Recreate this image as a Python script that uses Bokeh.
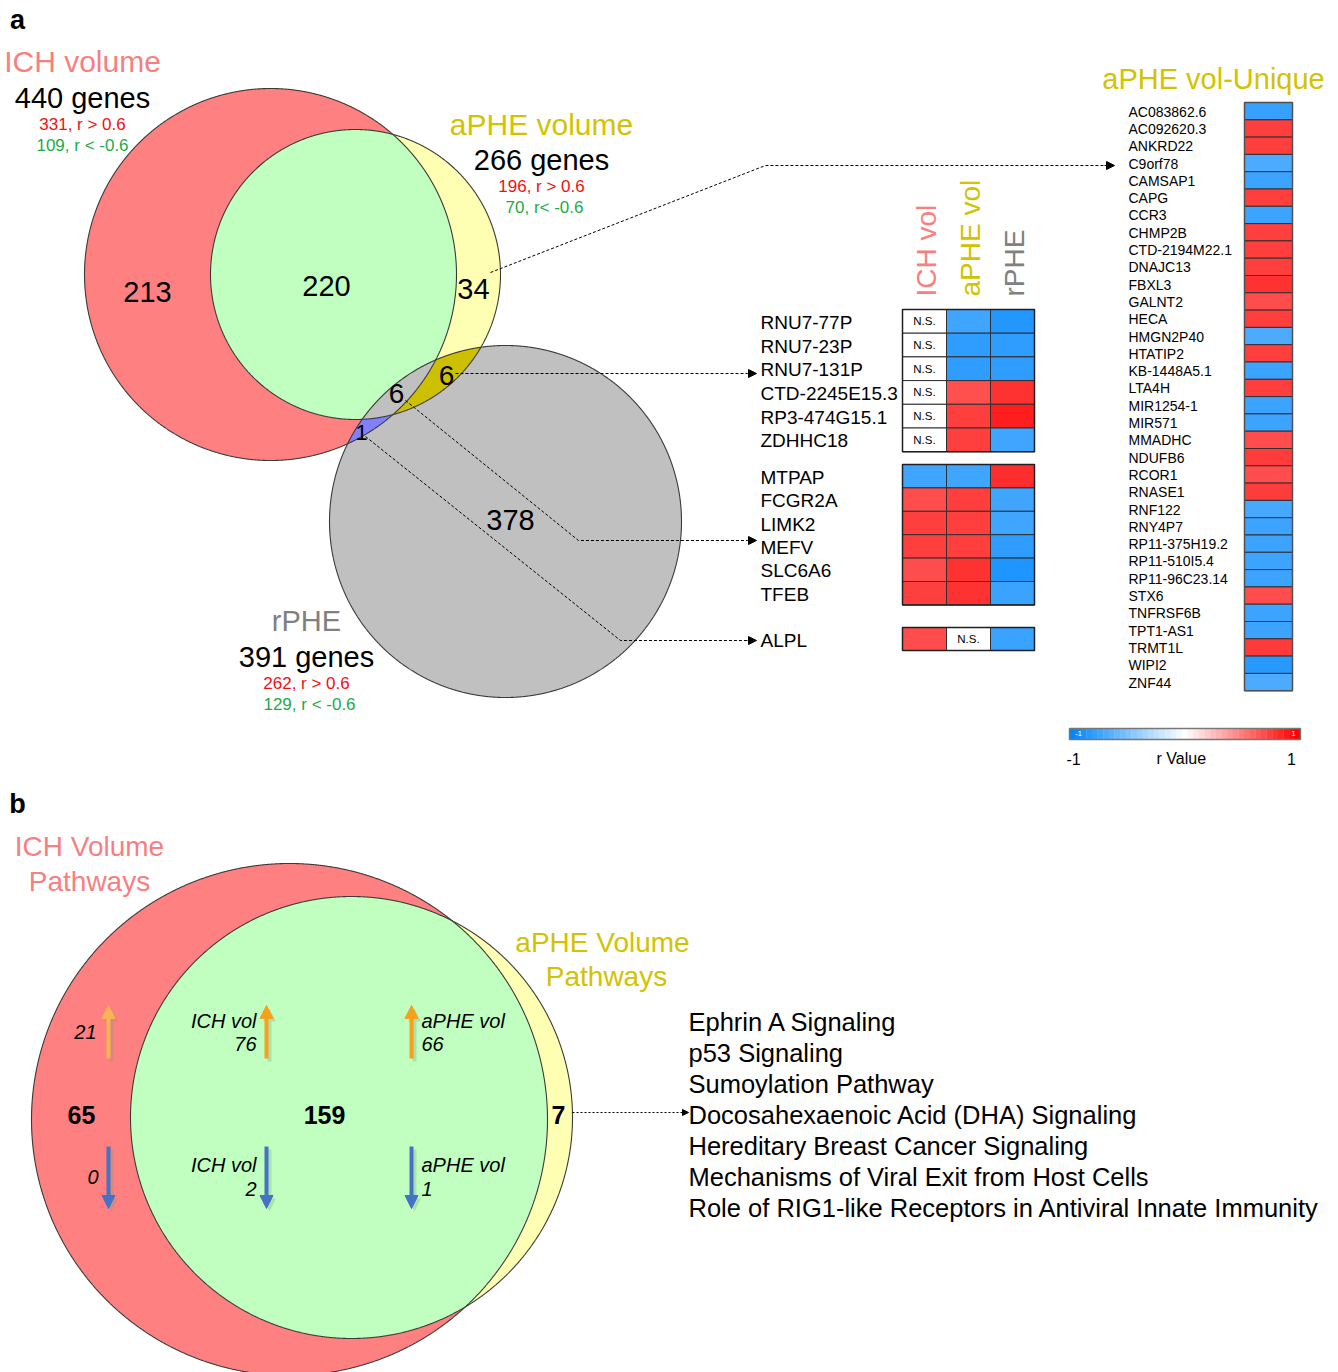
import numpy as np
from bokeh.plotting import figure
from bokeh.models import Range1d, Arrow, NormalHead, LinearColorMapper, ColumnDataSource
from bokeh.core.properties import value
from bokeh.embed import file_html
from bokeh.resources import INLINE

# ---------------- DATA ----------------
# Panel a: gene Venn
set_names_a = ["ICH volume", "aPHE volume", "rPHE"]
set_totals_a = [440, 266, 391]
set_pos_a = [331, 196, 262]
set_neg_a = [109, 70, 129]
region_counts_a = {"ich_only": 213, "ich_aphe": 220, "aphe_only": 34,
                   "aphe_rphe": 6, "all3": 6, "ich_rphe": 1, "rphe_only": 378}

hm_cols = ["ICH vol", "aPHE vol", "rPHE"]
# NaN = N.S.
hm1_genes = ["RNU7-77P", "RNU7-23P", "RNU7-131P", "CTD-2245E15.3", "RP3-474G15.1", "ZDHHC18"]
hm1_ich = [np.nan, np.nan, np.nan, np.nan, np.nan, np.nan]
hm1_aphe = [-0.75, -0.82, -0.82, 0.68, 0.75, 0.75]
hm1_rphe = [-0.86, -0.82, -0.82, 0.80, 0.88, -0.75]

hm2_genes = ["MTPAP", "FCGR2A", "LIMK2", "MEFV", "SLC6A6", "TFEB"]
hm2_ich = [-0.75, 0.70, 0.75, 0.75, 0.70, 0.75]
hm2_aphe = [-0.75, 0.75, 0.75, 0.75, 0.80, 0.80]
hm2_rphe = [0.82, -0.75, -0.75, -0.82, -0.88, -0.77]

hm3_genes = ["ALPL"]
hm3_ich = [0.70]
hm3_aphe = [np.nan]
hm3_rphe = [-0.77]

uniq_genes = ["AC083862.6", "AC092620.3", "ANKRD22", "C9orf78", "CAMSAP1", "CAPG", "CCR3",
              "CHMP2B", "CTD-2194M22.1", "DNAJC13", "FBXL3", "GALNT2", "HECA", "HMGN2P40",
              "HTATIP2", "KB-1448A5.1", "LTA4H", "MIR1254-1", "MIR571", "MMADHC", "NDUFB6",
              "RCOR1", "RNASE1", "RNF122", "RNY4P7", "RP11-375H19.2", "RP11-510I5.4",
              "RP11-96C23.14", "STX6", "TNFRSF6B", "TPT1-AS1", "TRMT1L", "WIPI2", "ZNF44"]
uniq_r = [-0.78, 0.75, 0.75, -0.70, -0.76, 0.75, -0.76, 0.75, 0.75, 0.75, 0.80, 0.70,
          0.75, -0.70, 0.75, -0.76, 0.75, -0.76, -0.76, 0.70, 0.76, 0.70, 0.76, -0.72,
          -0.76, -0.76, -0.76, -0.76, 0.70, -0.76, -0.76, 0.77, -0.84, -0.70]

cbar_ticks = [-1, 1]

# Panel b: pathway Venn
set_names_b = ["ICH Volume\nPathways", "aPHE Volume\nPathways"]
region_counts_b = {"ich_only": 65, "shared": 159, "aphe_only": 7}
ich_only_up, ich_only_down = 21, 0
shared_ich_up, shared_ich_down = 76, 2
shared_aphe_up, shared_aphe_down = 66, 1
aphe_unique_pathways = ["Ephrin A Signaling", "p53 Signaling", "Sumoylation Pathway",
                        "Docosahexaenoic Acid (DHA) Signaling", "Hereditary Breast Cancer Signaling",
                        "Mechanisms of Viral Exit from Host Cells",
                        "Role of RIG1-like Receptors in Antiviral Innate Immunity"]

# ---------------- STYLE / LAYOUT ----------------
FONT = "Liberation Sans"
C_RED, C_YEL, C_GRN, C_GRY = "#FF8080", "#FFFFB3", "#C0FFC0", "#C0C0C0"
C_OLV, C_BLU = "#CCC000", "#8080FF"
T_ICH, T_APHE, T_RPHE = "#F77F7F", "#D2C300", "#808080"
T_POS, T_NEG = "#F01010", "#1DAA48"
OUT = "#3a3a3a"

W, H = 1338, 1372
p = figure(width=W, height=H, x_range=Range1d(0, W), y_range=Range1d(H, 0),
           output_backend="svg", toolbar_location=None, min_border=0,
           min_border_left=0, min_border_right=0, min_border_top=0, min_border_bottom=0)
p.axis.visible = False
p.grid.visible = False
p.outline_line_color = None


def txt(x, y, s, size, color="black", align="center", style="normal", angle=0, baseline="middle"):
    p.text(x=[x], y=[y], text=[s], text_font_size=f"{size}px", text_color=color,
           text_align=align, text_baseline=baseline, text_font=value(FONT),
           text_font_style=style, angle=angle)


def radii(c):
    return (c[2], c[2]) if len(c) == 3 else (c[2], c[3])


def circ_pts(c, n=2400):
    rx, ry = radii(c)
    t = np.linspace(0, 2 * np.pi, n, endpoint=False)
    return c[0] + rx * np.cos(t), c[1] + ry * np.sin(t)


def inter(shapes):
    xs, ys = [], []
    for i, c in enumerate(shapes):
        x, y = circ_pts(c)
        m = np.ones_like(x, dtype=bool)
        for j, d in enumerate(shapes):
            if j != i:
                rx, ry = radii(d)
                m &= ((x - d[0]) / rx) ** 2 + ((y - d[1]) / ry) ** 2 <= 1.0
        xs.append(x[m]); ys.append(y[m])
    x = np.concatenate(xs); y = np.concatenate(ys)
    cx, cy = x.mean(), y.mean()
    o = np.argsort(np.arctan2(y - cy, x - cx))
    return x[o], y[o]


def fill(xy, color):
    p.patch(xy[0], xy[1], fill_color=color, line_color=None)


def outline(c):
    x, y = circ_pts(c)
    p.patch(x, y, fill_color=None, line_color=OUT, line_width=1.1)


def dashed(xs, ys, end_x, end_y, dash="3 2", size=8):
    p.line(xs, ys, line_color="black", line_width=1, line_dash=dash)
    p.add_layout(Arrow(end=NormalHead(size=size, fill_color="black", line_color="black"),
                       x_start=xs[-1], y_start=ys[-1], x_end=end_x, y_end=end_y,
                       line_color="black", line_width=1))


# ---------------- PANEL a: Venn ----------------
R = (270, 274, 186)
Y = (355, 274, 145)
G = (505, 521, 176)
fill(circ_pts(R), C_RED)
fill(circ_pts(Y), C_YEL)
fill(inter([R, Y]), C_GRN)
fill(circ_pts(G), C_GRY)
fill(inter([G, R]), C_BLU)
fill(inter([G, Y]), C_OLV)
fill(inter([G, R, Y]), C_GRY)
for c in (R, Y, G):
    outline(c)

txt(17, 19, "a", 27, style="bold")
txt(82, 61, set_names_a[0], 30, T_ICH)
txt(82, 97, f"{set_totals_a[0]} genes", 29)
txt(82, 124, f"{set_pos_a[0]}, r > 0.6", 17, T_POS)
txt(82, 145, f"{set_neg_a[0]}, r < -0.6", 17, T_NEG)

txt(541, 124, set_names_a[1], 30, T_APHE)
txt(541, 159, f"{set_totals_a[1]} genes", 29)
txt(541, 186, f"{set_pos_a[1]}, r > 0.6", 17, T_POS)
txt(544, 207, f"{set_neg_a[1]}, r< -0.6", 17, T_NEG)

txt(306, 620, set_names_a[2], 29, T_RPHE)
txt(306, 656, f"{set_totals_a[2]} genes", 29)
txt(306, 683, f"{set_pos_a[2]}, r > 0.6", 17, T_POS)
txt(309, 704, f"{set_neg_a[2]}, r < -0.6", 17, T_NEG)

txt(147, 291, str(region_counts_a["ich_only"]), 29)
txt(326, 285, str(region_counts_a["ich_aphe"]), 29)
txt(473, 288, str(region_counts_a["aphe_only"]), 29)
txt(446, 375, str(region_counts_a["aphe_rphe"]), 28)
txt(396, 393, str(region_counts_a["all3"]), 28)
txt(361, 432, str(region_counts_a["ich_rphe"]), 22)
txt(510, 519, str(region_counts_a["rphe_only"]), 29)

# connectors
dashed([490, 765, 1104], [272, 165, 165], 1114, 165)
dashed([455, 747], [373, 373], 756, 373)
dashed([405, 578, 747], [400, 540, 540], 756, 540)
dashed([365, 620, 747], [436, 640, 640], 756, 640)

# ---------------- Heatmaps ----------------
palette = []
for v in np.linspace(-1, 1, 256):
    if v < 0:
        t = -v
        rgb = (255 - 255 * t, 255 - 120 * t, 255)
    else:
        t = v
        rgb = (255, 255 - 255 * t, 255 - 255 * t)
    palette.append("#%02x%02x%02x" % tuple(int(round(c)) for c in rgb))
mapper = LinearColorMapper(palette=palette, low=-1, high=1, nan_color="white")

col_x = [924, 968, 1012]
CW = 44


def heatmap(genes, cols, top, rh):
    xs, ys, rs = [], [], []
    for ci, vals in enumerate(cols):
        for gi, v in enumerate(vals):
            xs.append(col_x[ci]); ys.append(top + (gi + 0.5) * rh); rs.append(v)
    src = ColumnDataSource(dict(x=xs, y=ys, r=rs))
    p.rect("x", "y", width=CW, height=rh, source=src,
           fill_color={"field": "r", "transform": mapper}, line_color="#303030", line_width=1)
    n = len(genes)
    p.rect([968], [top + n * rh / 2], width=3 * CW, height=n * rh, fill_color=None,
           line_color="#202020", line_width=1.5)
    for gi, g in enumerate(genes):
        txt(760, top + (gi + 0.5) * rh + 1, g, 19, align="left")
    for x, y, v in zip(xs, ys, rs):
        if np.isnan(v):
            txt(x, y, "N.S.", 11.5)


heatmap(hm1_genes, [hm1_ich, hm1_aphe, hm1_rphe], 309, 23.7)
heatmap(hm2_genes, [hm2_ich, hm2_aphe, hm2_rphe], 464, 23.4)
heatmap(hm3_genes, [hm3_ich, hm3_aphe, hm3_rphe], 627, 23.0)

for cx, name, colr in zip(col_x, hm_cols, [T_ICH, T_APHE, T_RPHE]):
    txt(cx + 2, 296, name, 28, colr, align="left", angle=np.pi / 2)

# unique list
u_top, u_h = 102, 17.3
usrc = ColumnDataSource(dict(x=[1268] * len(uniq_genes),
                             y=[u_top + (i + 0.5) * u_h for i in range(len(uniq_genes))],
                             r=uniq_r))
p.rect("x", "y", width=48, height=u_h, source=usrc,
       fill_color={"field": "r", "transform": mapper}, line_color="#303030", line_width=1)
p.rect([1268], [u_top + len(uniq_genes) * u_h / 2], width=48, height=len(uniq_genes) * u_h,
       fill_color=None, line_color="#505050", line_width=1.5)
for i, g in enumerate(uniq_genes):
    txt(1128, u_top + (i + 0.5) * u_h + 0.5, g, 14, align="left")
txt(1213, 78, "aPHE vol-Unique", 29, T_APHE)

# colour bar
nb = 41
cb_vals = np.linspace(cbar_ticks[0], cbar_ticks[1], nb)
cb_x0, cb_x1 = 1069, 1300
cbw = (cb_x1 - cb_x0) / nb
cbsrc = ColumnDataSource(dict(x=[cb_x0 + (i + 0.5) * cbw for i in range(nb)],
                              y=[733.5] * nb, r=cb_vals))
p.rect("x", "y", width=cbw + 0.3, height=11, source=cbsrc,
       fill_color={"field": "r", "transform": mapper}, line_color=None)
p.rect([(cb_x0 + cb_x1) / 2], [733.5], width=cb_x1 - cb_x0, height=11, fill_color=None,
       line_color="#777777", line_width=1.5)
txt(1078, 733, "-1", 8, "white")
txt(1293, 733, "1", 8, "white")
txt(1073, 758, str(cbar_ticks[0]), 16)
txt(1183, 758, "r  Value", 16)
txt(1291, 758, str(cbar_ticks[1]), 16)

# ---------------- PANEL b ----------------
R2 = (289, 1119, 258, 256)
Y2 = (351, 1117, 221)
fill(circ_pts(R2), C_RED)
fill(circ_pts(Y2), C_YEL)
fill(inter([R2, Y2]), C_GRN)
outline(R2)
outline(Y2)

txt(17, 803, "b", 27, style="bold")
for k, line in enumerate(set_names_b[0].split("\n")):
    txt(89, 846 + 35 * k, line, 28, T_ICH)
for k, line in enumerate(set_names_b[1].split("\n")):
    txt(602 if k == 0 else 606, 942 + 34 * k, line, 28, T_APHE)

txt(81, 1114, str(region_counts_b["ich_only"]), 25, style="bold")
txt(324, 1114, str(region_counts_b["shared"]), 25, style="bold")
txt(558, 1114, str(region_counts_b["aphe_only"]), 25, style="bold")


def varrow(x, y0, y1, color):
    p.add_layout(Arrow(end=NormalHead(size=13, fill_color="#7a9a7a", line_color=None, fill_alpha=0.3),
                       x_start=x + 3, y_start=y0 + 3, x_end=x + 3, y_end=y1 + 3,
                       line_color="#7a9a7a", line_alpha=0.3, line_width=4))
    p.add_layout(Arrow(end=NormalHead(size=13, fill_color=color, line_color=color),
                       x_start=x, y_start=y0, x_end=x, y_end=y1, line_color=color, line_width=4))


OR1, OR2, BL = "#F9B355", "#F7A01C", "#4472C4"
varrow(108, 1058, 1005, OR1)
varrow(266, 1058, 1005, OR2)
varrow(411, 1058, 1005, OR2)
varrow(108, 1146, 1208, BL)
varrow(266, 1146, 1208, BL)
varrow(411, 1146, 1208, BL)

txt(96, 1031, str(ich_only_up), 20, style="italic", align="right")
txt(98, 1176, str(ich_only_down), 20, style="italic", align="right")
txt(256, 1020, "ICH vol", 20, style="italic", align="right")
txt(256, 1043, str(shared_ich_up), 20, style="italic", align="right")
txt(256, 1164, "ICH vol", 20, style="italic", align="right")
txt(256, 1188, str(shared_ich_down), 20, style="italic", align="right")
txt(421, 1020, "aPHE vol", 20, style="italic", align="left")
txt(421, 1043, str(shared_aphe_up), 20, style="italic", align="left")
txt(421, 1164, "aPHE vol", 20, style="italic", align="left")
txt(421, 1188, str(shared_aphe_down), 20, style="italic", align="left")

dashed([572, 680], [1112, 1112], 688, 1112, dash="2 2", size=6)
for i, pw in enumerate(aphe_unique_pathways):
    txt(688, 1021 + 31 * i, pw, 25.5, align="left")

open("out.html", "w").write(file_html(p, INLINE))
